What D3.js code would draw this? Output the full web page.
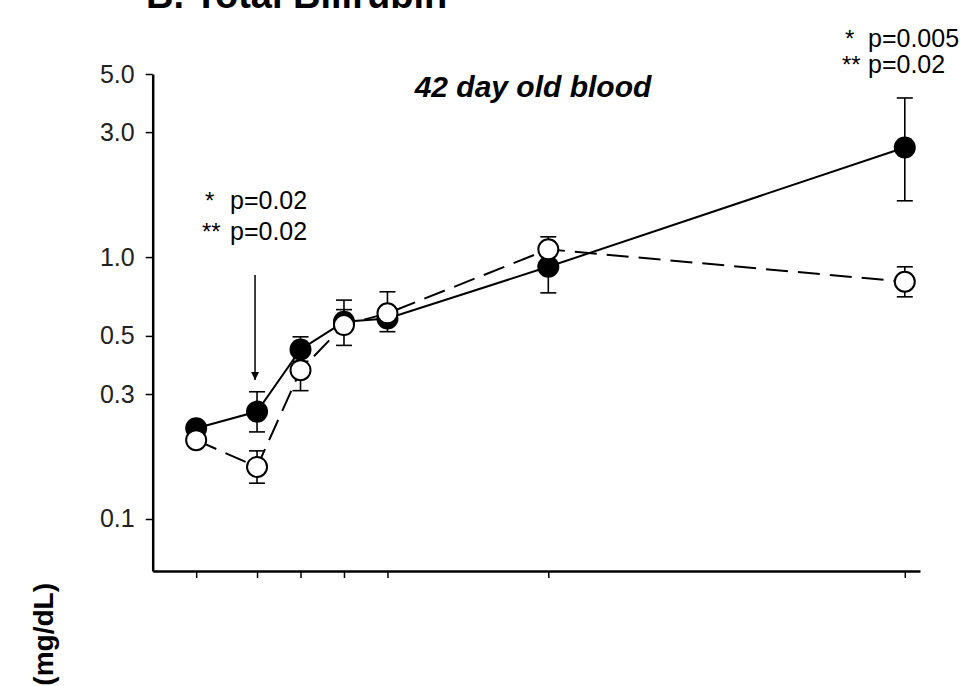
<!DOCTYPE html>
<html>
<head>
<meta charset="utf-8">
<script src="https://cdn.jsdelivr.net/npm/d3@7"></script>
<style>
  body { margin: 0; background: #fff; }
  svg { display: block; }
  text { font-family: "Liberation Sans", Arial, sans-serif; }
</style>
</head>
<body>
<svg id="viz"></svg>
<script>
// sampling times (no labels on the axis, relative units)
var times = [1, 2.4, 3.4, 4.4, 5.4, 9.1, 17.3];

// filled circles, solid line
var filledMean = [0.222, 0.257, 0.444, 0.566, 0.583, 0.918, 2.62];
var filledLow  = [null, 0.215, 0.40, null, 0.519, 0.73, 1.64];
var filledHigh = [null, 0.306, 0.496, 0.63, null, null, 4.05];

// open circles, dashed line
var openMean = [0.20, 0.158, 0.37, 0.55, 0.61, 1.07, 0.805];
var openLow  = [null, 0.137, 0.309, 0.46, null, null, 0.705];
var openHigh = [null, 0.182, null, 0.685, 0.737, 1.195, 0.918];

var yTicks = [0.1, 0.3, 0.5, 1, 3, 5];

var width = 972, height = 686;
var svg = d3.select("#viz").attr("width", width).attr("height", height);

var x = d3.scaleLinear().domain([0, 17.65]).range([152.7, 920]);
var y = d3.scaleLog().domain([0.0633, 5]).range([571, 74]);

// title, mostly cut off at the top edge
svg.append("text")
    .attr("x", 146).attr("y", 8)
    .attr("font-size", 38).attr("font-weight", "bold")
    .text("B. Total Bilirubin");

// axes
var yAxis = svg.append("g")
    .attr("transform", "translate(152.7,0)")
    .call(d3.axisLeft(y).tickValues(yTicks).tickFormat(d3.format(".1f")).tickSize(7).tickSizeOuter(0).tickPadding(11));
yAxis.select(".domain").attr("stroke-width", 2.5);
yAxis.selectAll(".tick line").attr("stroke-width", 1.5);
yAxis.selectAll(".tick text").attr("font-size", 25).attr("fill", "#222")
    .attr("font-family", "'Liberation Sans', Arial, sans-serif");

var xAxis = svg.append("g")
    .attr("transform", "translate(0,571)")
    .call(d3.axisBottom(x).tickValues(times).tickFormat("").tickSize(7).tickSizeOuter(0));
xAxis.select(".domain").attr("stroke-width", 2.5);
xAxis.selectAll(".tick line").attr("stroke-width", 1.5);

// y label (only the end shows in the frame)
svg.append("text")
    .attr("transform", "translate(53,583) rotate(-90)")
    .attr("text-anchor", "end")
    .attr("font-size", 28).attr("font-weight", "bold")
    .text("(mg/dL)");

var line = d3.line().x(function(d) { return x(d.t); }).y(function(d) { return y(d.v); });

function series(mean, low, high) {
    return times.map(function(t, i) { return {t: t, v: mean[i], lo: low[i], hi: high[i]}; });
}
var filled = series(filledMean, filledLow, filledHigh);
var open = series(openMean, openLow, openHigh);

function drawErrors(data) {
    var g = svg.append("g").attr("stroke", "#000").attr("stroke-width", 1.6);
    data.forEach(function(d) {
        [d.lo, d.hi].forEach(function(e) {
            if (e == null) return;
            g.append("line").attr("x1", x(d.t)).attr("x2", x(d.t)).attr("y1", y(d.v)).attr("y2", y(e));
            g.append("line").attr("x1", x(d.t) - 8).attr("x2", x(d.t) + 8).attr("y1", y(e)).attr("y2", y(e));
        });
    });
}

drawErrors(filled);
drawErrors(open);

svg.append("path").datum(filled)
    .attr("d", line).attr("fill", "none").attr("stroke", "#000").attr("stroke-width", 2);
svg.append("path").datum(open)
    .attr("d", line).attr("fill", "none").attr("stroke", "#000").attr("stroke-width", 2)
    .attr("stroke-dasharray", "22,10");

svg.append("g").selectAll("circle").data(filled).enter().append("circle")
    .attr("cx", function(d) { return x(d.t); })
    .attr("cy", function(d) { return y(d.v); })
    .attr("r", 11).attr("fill", "#000");

svg.append("g").selectAll("circle").data(open).enter().append("circle")
    .attr("cx", function(d) { return x(d.t); })
    .attr("cy", function(d) { return y(d.v); })
    .attr("r", 10).attr("fill", "#fff").attr("stroke", "#000").attr("stroke-width", 2);

// annotations
svg.append("text")
    .attr("x", 533).attr("y", 97).attr("text-anchor", "middle")
    .attr("font-size", 30).attr("font-weight", "bold").attr("font-style", "italic")
    .text("42 day old blood");

function note(xStar, xP, yBase, stars, p) {
    svg.append("text").attr("x", xStar).attr("y", yBase).attr("font-size", 24).text(stars);
    svg.append("text").attr("x", xP).attr("y", yBase).attr("font-size", 25).text(p);
}
note(205, 230, 209, "*", "p=0.02");
note(202, 230, 240, "**", "p=0.02");
note(845, 868, 47, "*", "p=0.005");
note(842, 868, 73, "**", "p=0.02");

// arrow pointing at the second sample
svg.append("defs").append("marker")
    .attr("id", "head").attr("viewBox", "0 0 10 10")
    .attr("refX", 10).attr("refY", 5)
    .attr("markerWidth", 8).attr("markerHeight", 12)
    .attr("markerUnits", "userSpaceOnUse").attr("orient", "auto")
    .append("path").attr("d", "M0,0 L10,5 L0,10 Z").attr("fill", "#000");
svg.append("line")
    .attr("x1", x(times[1]) - 2).attr("x2", x(times[1]) - 2)
    .attr("y1", 275).attr("y2", 380)
    .attr("stroke", "#000").attr("stroke-width", 1.5)
    .attr("marker-end", "url(#head)");
</script>
</body>
</html>
